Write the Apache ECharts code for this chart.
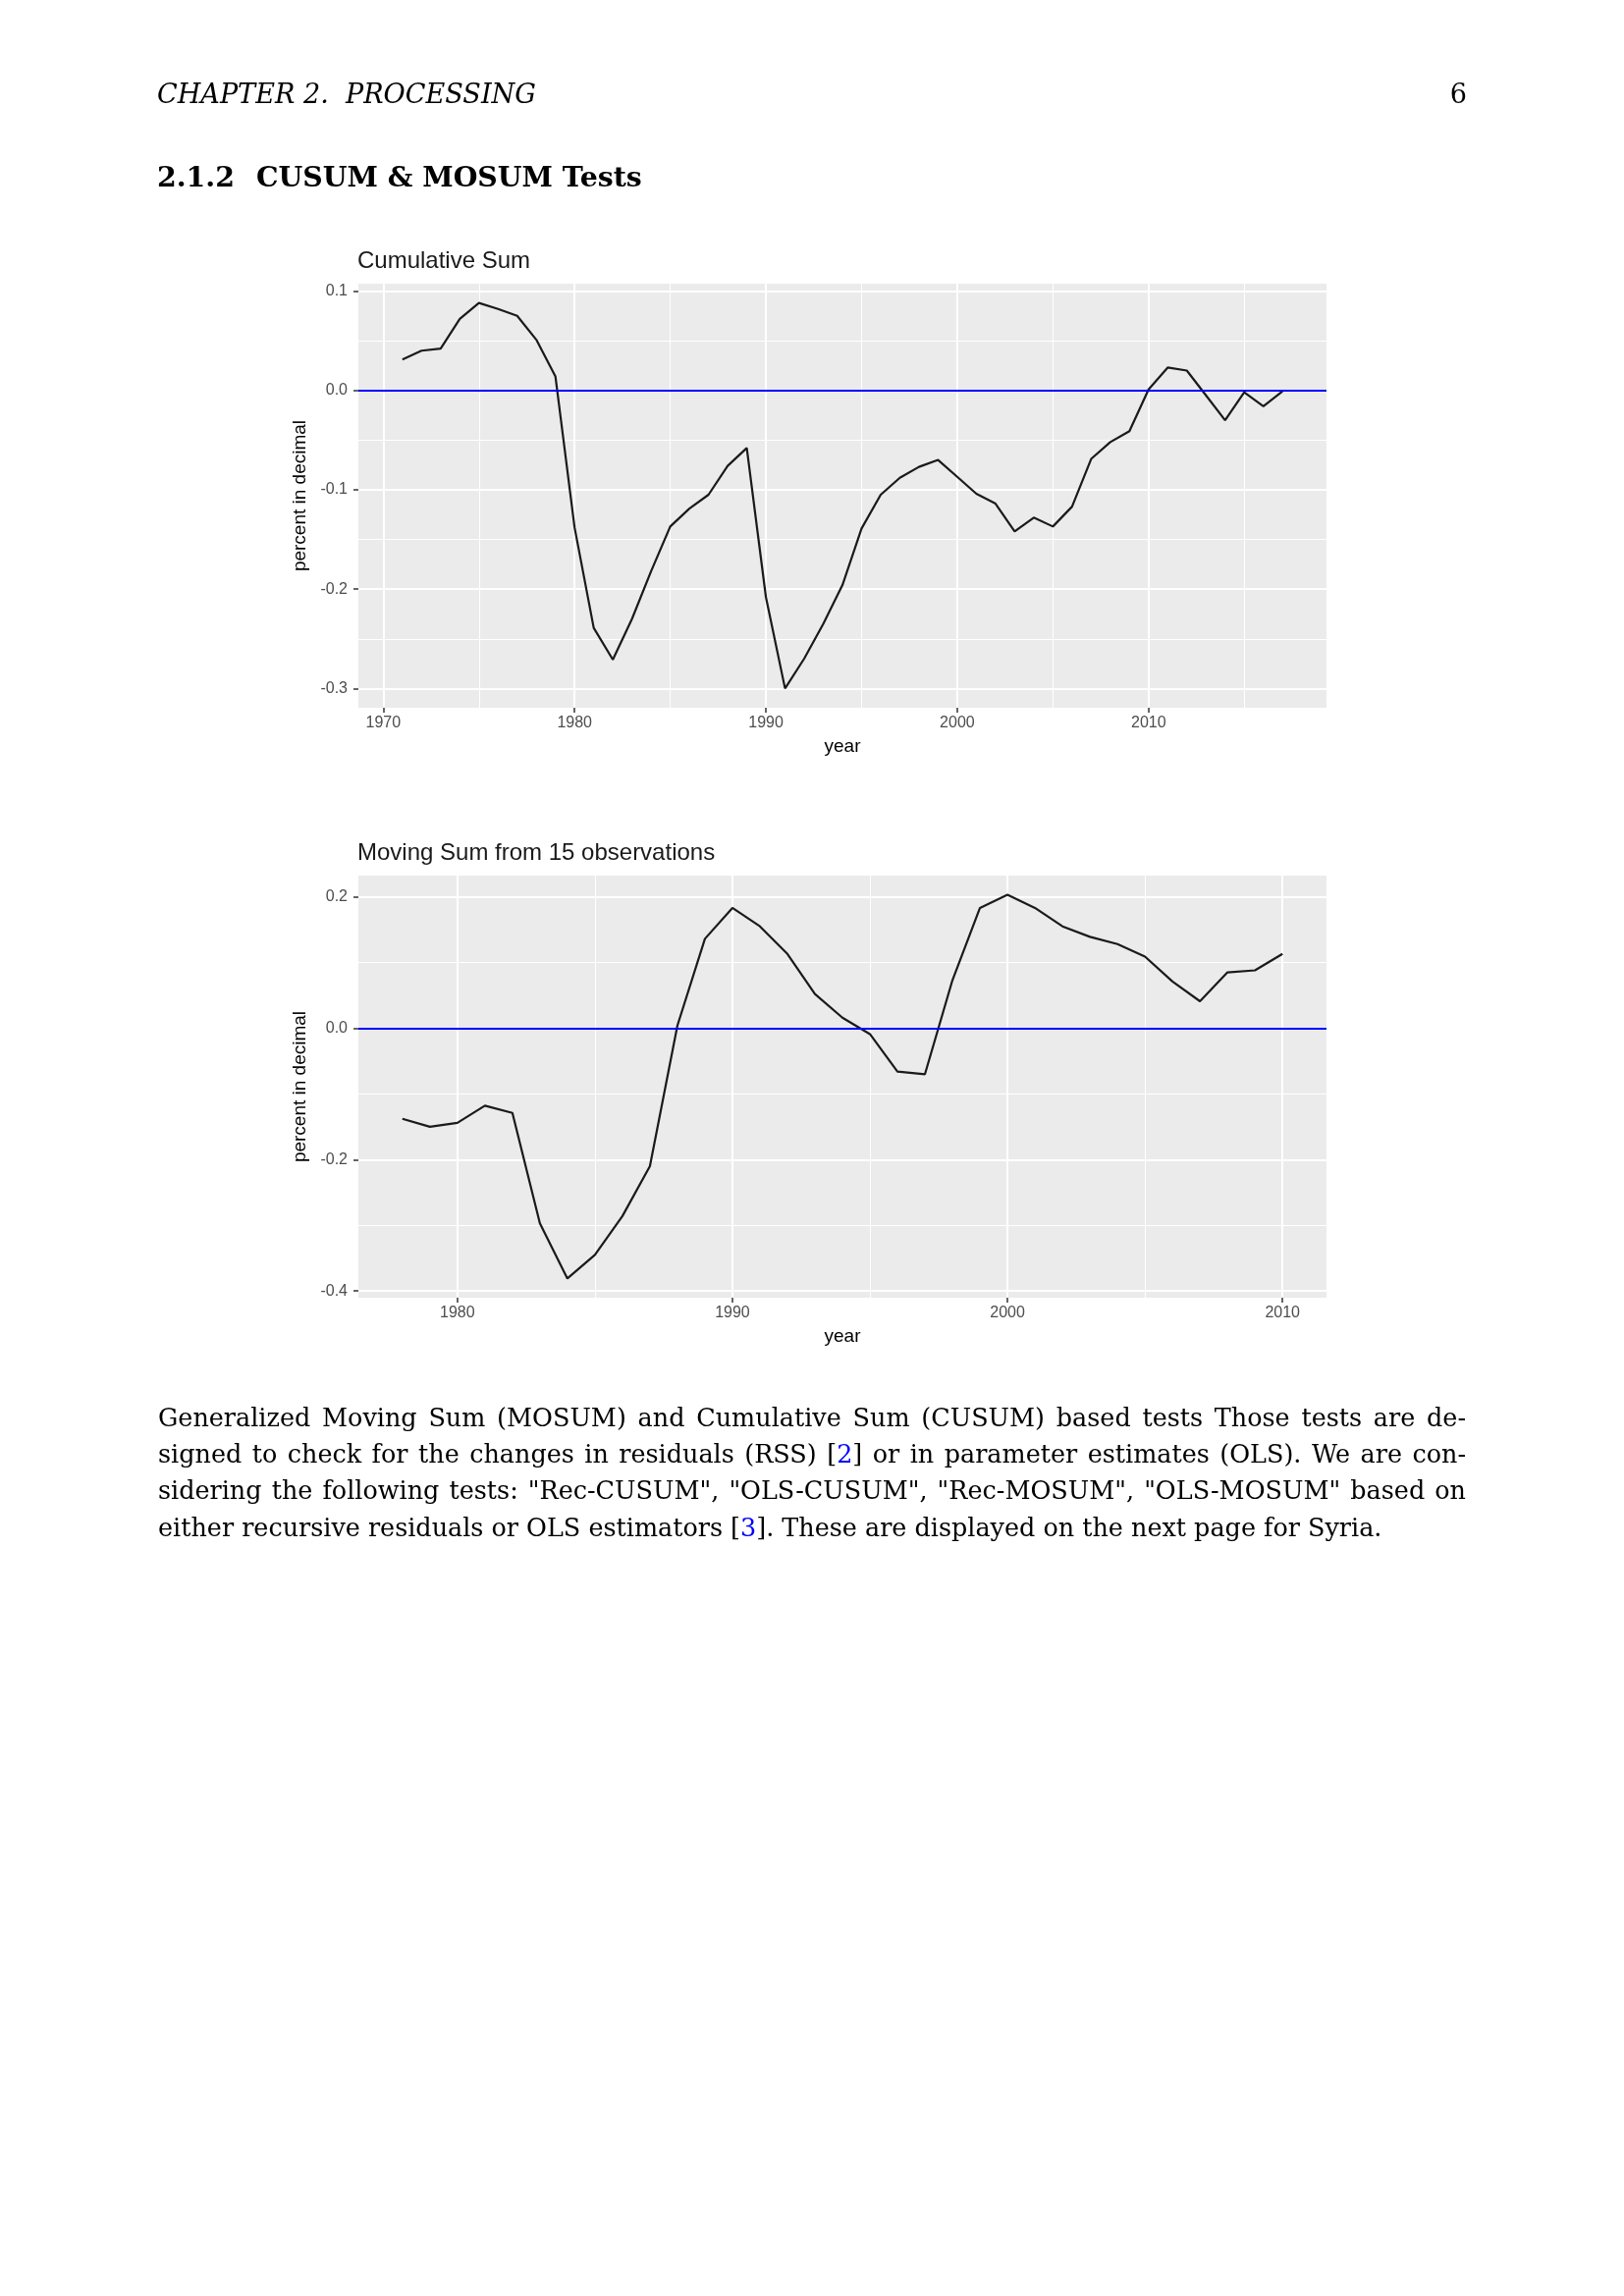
<!DOCTYPE html>
<html><head><meta charset="utf-8">
<script src="https://cdn.jsdelivr.net/npm/echarts@6/dist/echarts.min.js"></script>
<style>
html,body{margin:0;padding:0;background:#fff;}
#page{position:relative;width:1654px;height:2339px;overflow:hidden;background:#fff;}
#chart{position:absolute;left:0;top:0;width:1654px;height:2339px;}
.t{position:absolute;white-space:pre;color:#000;margin:0;padding:0;}
.ref{color:#0000ff;}
</style></head><body>
<div id="page">
<div id="chart"></div>
<div id="hdr" class="t"></div>
<div id="pno" class="t"></div>
<div id="secnum" class="t"></div>
<div id="sectitle" class="t"></div>
<div id="b0" class="t"></div>
<div id="b1" class="t"></div>
<div id="b2" class="t"></div>
<div id="b3" class="t"></div>
</div>
<script>
// ---------------- data ----------------
const cusumYears = [1971,1972,1973,1974,1975,1976,1977,1978,1979,1980,1981,1982,1983,1984,1985,1986,1987,1988,1989,1990,1991,1992,1993,1994,1995,1996,1997,1998,1999,2000,2001,2002,2003,2004,2005,2006,2007,2008,2009,2010,2011,2012,2013,2014,2015,2016,2017];
const cusumValues = [0.031,0.040,0.042,0.072,0.088,0.082,0.075,0.051,0.014,-0.138,-0.239,-0.271,-0.230,-0.182,-0.137,-0.119,-0.105,-0.076,-0.058,-0.208,-0.300,-0.270,-0.235,-0.196,-0.139,-0.105,-0.088,-0.077,-0.070,-0.087,-0.104,-0.114,-0.142,-0.128,-0.137,-0.117,-0.069,-0.052,-0.041,0.001,0.023,0.020,-0.005,-0.030,-0.002,-0.016,-0.001];
const mosumYears = [1978,1979,1980,1981,1982,1983,1984,1985,1986,1987,1988,1989,1990,1991,1992,1993,1994,1995,1996,1997,1998,1999,2000,2001,2002,2003,2004,2005,2006,2007,2008,2009,2010];
const mosumValues = [-0.138,-0.150,-0.144,-0.118,-0.129,-0.297,-0.381,-0.345,-0.286,-0.210,0.004,0.136,0.183,0.155,0.113,0.052,0.016,-0.009,-0.066,-0.070,0.073,0.183,0.203,0.183,0.155,0.139,0.128,0.109,0.071,0.041,0.085,0.088,0.113];
const cusumXTicks = [1970,1980,1990,2000,2010];
const cusumYTicks = [-0.3,-0.2,-0.1,0.0,0.1];
const mosumXTicks = [1980,1990,2000,2010];
const mosumYTicks = [-0.4,-0.2,0.0,0.2];
const titles = ['Cumulative Sum','Moving Sum from 15 observations'];
const xName = 'year';
const yName = 'percent in decimal';
const referenceLevel = 0;

const headerText = 'CHAPTER 2.  PROCESSING';
const pageNumber = '6';
const sectionNumber = '2.1.2';
const sectionTitle = 'CUSUM & MOSUM Tests';
const bodyLines = [
 'Generalized Moving Sum (MOSUM) and Cumulative Sum (CUSUM) based tests Those tests are de-',
 'signed to check for the changes in residuals (RSS) [2] or in parameter estimates (OLS). We are con-',
 'sidering the following tests: "Rec-CUSUM", "OLS-CUSUM", "Rec-MOSUM", "OLS-MOSUM" based on',
 'either recursive residuals or OLS estimators [3]. These are displayed on the next page for Syria.'
];

// ---------------- page text ----------------
const SERIF = '"DejaVu Serif", serif';
const SANS = '"Liberation Sans", Arial, sans-serif';
const cv = document.createElement('canvas').getContext('2d');
function fnt(style, weight, size, fam){ return style+' '+weight+' '+size.toFixed(3)+'px '+fam; }
function wOf(font, text){ cv.font = font; return cv.measureText(text).width; }
function place(el, font, x, baseline){
  cv.font = font; const m = cv.measureText('Hg');
  el.style.font = font;
  el.style.lineHeight = (m.fontBoundingBoxAscent + m.fontBoundingBoxDescent) + 'px';
  el.style.left = x + 'px';
  el.style.top = (baseline - m.fontBoundingBoxAscent) + 'px';
}
function esc(s){ return s.replace(/&/g,'&amp;').replace(/</g,'&lt;'); }

const hdrSize = 100 * 386 / wOf(fnt('italic','normal',100,SERIF), headerText);
const hdrEl = document.getElementById('hdr');
hdrEl.textContent = headerText;
place(hdrEl, fnt('italic','normal',hdrSize,SERIF), 160, 105);
const pEl = document.getElementById('pno');
pEl.textContent = pageNumber;
const pFont = fnt('normal','normal',hdrSize,SERIF);
place(pEl, pFont, 1494 - wOf(pFont, pageNumber), 105);

const secSize = 100 * 393 / wOf(fnt('normal','bold',100,SERIF), sectionTitle);
const snEl = document.getElementById('secnum'); snEl.textContent = sectionNumber;
place(snEl, fnt('normal','bold',secSize,SERIF), 160, 190);
const stEl = document.getElementById('sectitle'); stEl.textContent = sectionTitle;
place(stEl, fnt('normal','bold',secSize,SERIF), 261, 190);

const bodySize = 100 * 1247 / wOf(fnt('normal','normal',100,SERIF), bodyLines[3]);
const bodyFont = fnt('normal','normal',bodySize,SERIF);
bodyLines.forEach((line, i) => {
  const el = document.getElementById('b'+i);
  el.innerHTML = esc(line).replace(/\[(\d)\]/g, '[<span class="ref">$1</span>]');
  place(el, bodyFont, 161, 1452.8 + i*37.3);
  if (i < 3) {
    const nat = wOf(bodyFont, line);
    const n = (line.match(/ /g) || []).length;
    el.style.wordSpacing = ((1332 - nat) / n) + 'px';
  }
});

// ---------------- chart ----------------
function expand(arr){ const mn = Math.min(...arr), mx = Math.max(...arr), r = mx - mn; return [mn - 0.05*r, mx + 0.05*r]; }
const tickStyle = {show:true, length:5, lineStyle:{color:'#333333', width:1.5}};
function xAxisDef(gi, vals, ticks, split){
  const e = expand(vals);
  return {type:'value', gridIndex:gi, min:e[0], max:e[1], splitNumber:split,
    axisLine:{show:false, onZero:false},
    axisTick:Object.assign({customValues:ticks}, tickStyle),
    axisLabel:{customValues:ticks, margin:8, fontSize:16, color:'#4d4d4d', fontFamily:SANS, formatter:v=>String(Math.round(v))},
    splitLine:{show:true, lineStyle:{color:'#ffffff', width:2}},
    minorTick:{show:false, splitNumber:2},
    minorSplitLine:{show:true, lineStyle:{color:'#ffffff', width:1}},
    name:xName, nameLocation:'middle', nameGap:30,
    nameTextStyle:{fontSize:19, color:'#000', fontFamily:SANS}};
}
function yAxisDef(gi, vals, ticks, split){
  const e = expand(vals);
  return {type:'value', gridIndex:gi, min:e[0], max:e[1], splitNumber:split,
    axisLine:{show:false, onZero:false},
    axisTick:Object.assign({customValues:ticks}, tickStyle),
    axisLabel:{customValues:ticks, margin:11, fontSize:16, color:'#4d4d4d', fontFamily:SANS, formatter:v=>v.toFixed(1)},
    splitLine:{show:true, lineStyle:{color:'#ffffff', width:2}},
    minorTick:{show:false, splitNumber:2},
    minorSplitLine:{show:true, lineStyle:{color:'#ffffff', width:1}},
    name:yName, nameLocation:'middle', nameGap:39, nameRotate:90,
    nameTextStyle:{fontSize:19, color:'#000', fontFamily:SANS}};
}
function lineSeries(gi, xs, ys){
  return {type:'line', xAxisIndex:gi, yAxisIndex:gi, data:xs.map((x,i)=>[x, ys[i]]),
    showSymbol:false, symbol:'none', silent:true, z:3,
    lineStyle:{color:'#1a1a1a', width:2.2},
    markLine:{silent:true, symbol:'none', label:{show:false}, emphasis:{disabled:true},
      lineStyle:{color:'#0000ff', width:2, type:'solid'}, data:[{yAxis:referenceLevel}]}};
}
const chart = echarts.init(document.getElementById('chart'), null, {renderer:'canvas'});
chart.setOption({
  animation:false,
  backgroundColor:'transparent',
  title:[
    {text:titles[0], left:364, top:254, padding:0, textStyle:{fontFamily:SANS, fontSize:24, fontWeight:'normal', color:'#1a1a1a'}},
    {text:titles[1], left:364, top:857, padding:0, textStyle:{fontFamily:SANS, fontSize:24, fontWeight:'normal', color:'#1a1a1a'}}
  ],
  grid:[
    {left:365, top:289, width:986, height:432, show:true, backgroundColor:'#ebebeb', borderWidth:0, containLabel:false, outerBoundsMode:'none'},
    {left:365, top:892, width:986, height:430, show:true, backgroundColor:'#ebebeb', borderWidth:0, containLabel:false, outerBoundsMode:'none'}
  ],
  xAxis:[xAxisDef(0, cusumYears, cusumXTicks, 5), xAxisDef(1, mosumYears, mosumXTicks, 4)],
  yAxis:[yAxisDef(0, cusumValues, cusumYTicks, 4), yAxisDef(1, mosumValues, mosumYTicks, 3)],
  series:[lineSeries(0, cusumYears, cusumValues), lineSeries(1, mosumYears, mosumValues)]
});
</script>
</body></html>
